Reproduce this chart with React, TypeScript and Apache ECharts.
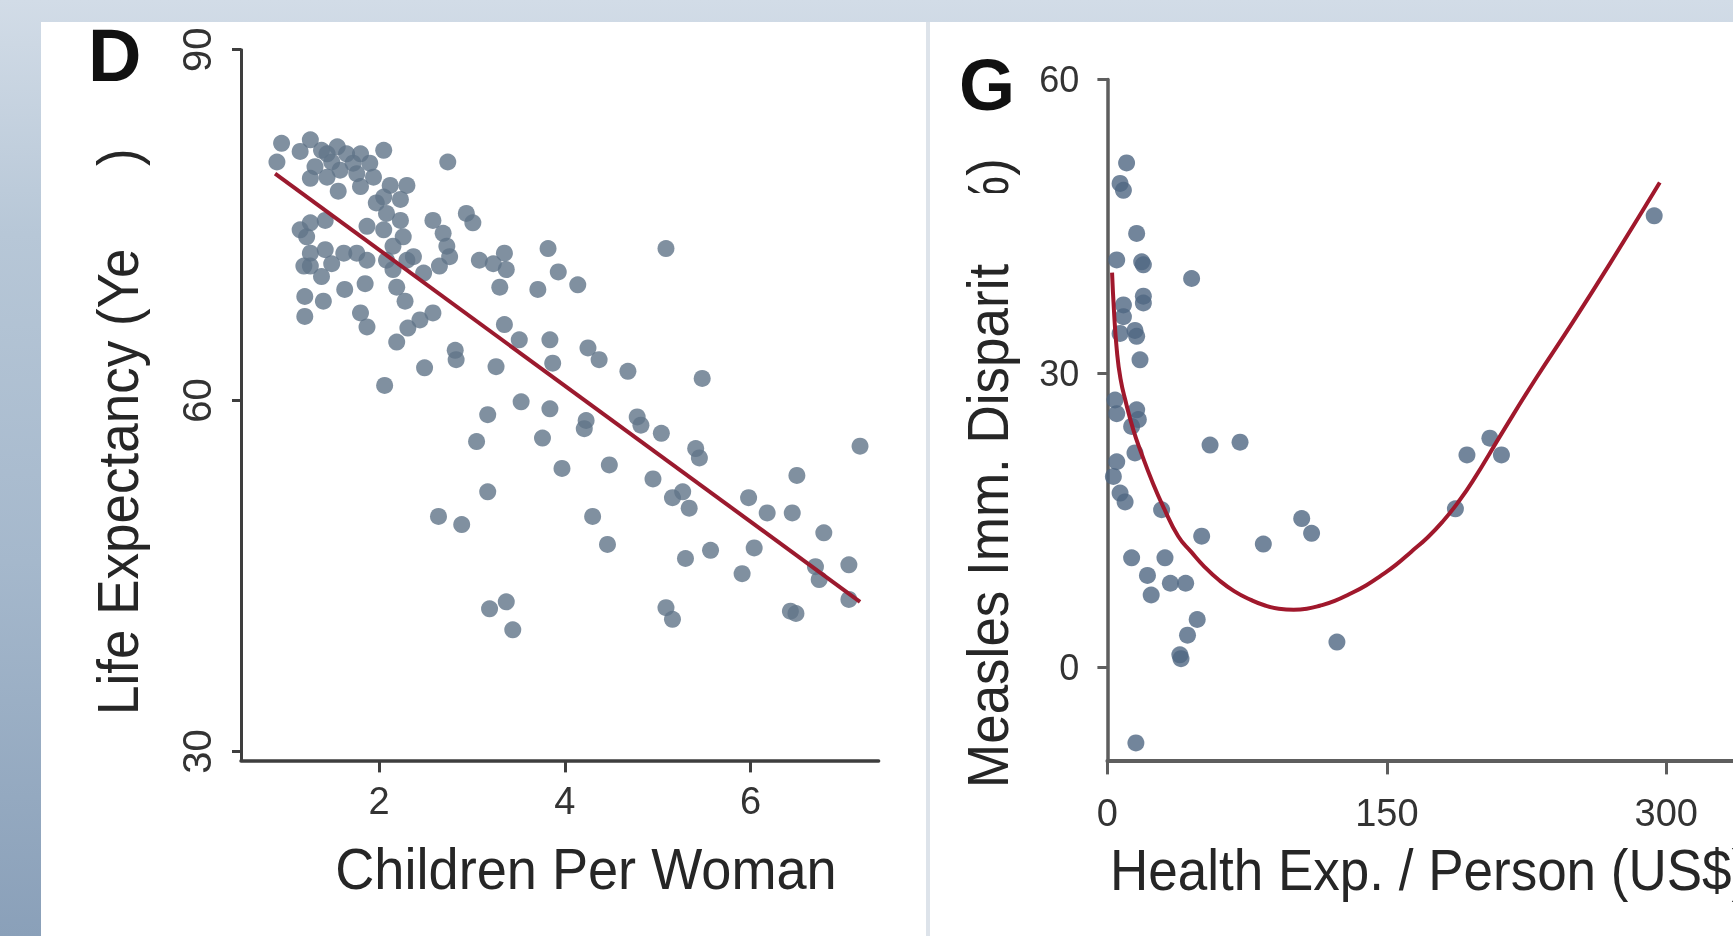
import React, { useEffect, useRef } from "react";
import * as echarts from "echarts";

// ---- tick values ----
const leftXTicks = [2, 4, 6];
const leftYTicks = [30, 60, 90];
const rightXTicks = [0, 150, 300];
const rightYTicks = [0, 30, 60];

// ---- Panel D: children per woman vs life expectancy ----
const childrenLife: number[][] = [
  [0.95, 82.0], [0.9, 80.4], [1.26, 82.3], [1.38, 81.4], [1.31, 80.0], [1.49, 80.4], [1.26, 79.0], [1.44, 79.1],
  [1.58, 79.7], [1.8, 81.1], [1.9, 80.3], [2.05, 81.4], [1.76, 79.4], [1.94, 79.1], [2.12, 78.4], [2.3, 78.4],
  [1.56, 77.9], [1.8, 78.3], [2.05, 77.4], [2.23, 77.2], [2.74, 80.4], [1.26, 75.2], [1.22, 74.0], [1.42, 75.4],
  [1.26, 72.6], [1.26, 71.5], [1.42, 72.9], [1.49, 71.7], [1.38, 70.6], [1.76, 72.6], [1.87, 72.0], [1.87, 74.9],
  [2.05, 74.6], [2.08, 76.0], [2.23, 75.4], [2.26, 74.0], [2.15, 73.2], [2.3, 72.0], [2.15, 71.2], [2.37, 72.3],
  [2.58, 75.4], [2.69, 74.3], [2.73, 73.2], [2.76, 72.3], [2.65, 71.5], [2.48, 70.9], [2.94, 76.0], [3.01, 75.2],
  [3.08, 72.0], [3.23, 71.7], [3.35, 72.6], [3.37, 71.2], [3.3, 69.7], [3.82, 73.0], [3.93, 71.0], [4.14, 69.9],
  [3.71, 69.5], [1.2, 68.9], [1.4, 68.5], [1.2, 67.2], [1.63, 69.5], [1.85, 70.0], [1.8, 67.5], [1.87, 66.3],
  [2.28, 68.5], [2.19, 65.0], [2.31, 66.2], [2.44, 66.9], [2.58, 67.5], [2.49, 62.8], [2.82, 64.3], [2.83, 63.5],
  [2.06, 61.3], [3.26, 62.9], [3.35, 66.5], [3.51, 65.2], [3.84, 65.2], [3.87, 63.2], [4.25, 64.5], [1.55, 81.7],
  [1.15, 74.6], [1.19, 71.5], [2.08, 72.0], [1.62, 72.6], [2.19, 69.7], [1.72, 80.3], [1.15, 81.3], [1.44, 81.1],
  [1.65, 81.1], [1.97, 76.9],
  [5.09, 73.0], [4.37, 63.5], [4.68, 62.5], [5.48, 61.9], [4.23, 58.3], [4.21, 57.6], [4.78, 58.6], [4.82, 57.9],
  [5.04, 57.2], [5.41, 55.9], [5.45, 55.1], [7.18, 56.1], [4.48, 54.5], [3.97, 54.2], [4.95, 53.3], [6.5, 53.6],
  [3.53, 59.9], [3.84, 59.3], [3.17, 58.8], [3.05, 56.5], [3.76, 56.8], [3.17, 52.2], [2.64, 50.1], [2.89, 49.4],
  [4.3, 50.1], [4.46, 47.7], [5.16, 51.7], [5.27, 52.2], [5.34, 50.8], [5.98, 51.7], [6.18, 50.4], [6.45, 50.4],
  [6.79, 48.7], [7.06, 45.96], [6.7, 45.8], [6.74, 44.7], [7.06, 43.0], [6.43, 42.0], [6.49, 41.8], [6.04, 47.4],
  [5.91, 45.2], [5.57, 47.2], [5.3, 46.5], [5.09, 42.3], [5.16, 41.3], [3.19, 42.2], [3.37, 42.8], [3.44, 40.4],
];
const lifeFit: number[][] = [[0.88, 79.4], [7.18, 42.8]];

// ---- Panel G: health expenditure vs measles immunisation disparity ----
const healthMeasles: number[][] = [
  [10.3, 51.5], [6.8, 49.4], [8.6, 48.7], [15.7, 44.3], [5.0, 41.6], [18.4, 41.4], [19.3, 41.1], [45.2, 39.7],
  [8.6, 37.0], [19.3, 37.9], [19.3, 37.2], [8.6, 35.8], [14.8, 34.4], [15.7, 33.8], [6.8, 34.1], [17.5, 31.4],
  [4.1, 27.3], [5.0, 25.9], [15.7, 26.3], [16.6, 25.3], [13.0, 24.6], [55.1, 22.7], [71.2, 23.0], [14.8, 21.9],
  [5.0, 21.0], [3.2, 19.5], [6.8, 17.8], [9.5, 16.9], [29.1, 16.1], [50.6, 13.4], [83.7, 12.6], [104.3, 15.2],
  [109.6, 13.7], [13.0, 11.2], [30.9, 11.2], [21.5, 9.4], [33.8, 8.6], [42.0, 8.6], [23.5, 7.4], [48.2, 4.9],
  [43.0, 3.3], [38.9, 1.3], [39.5, 0.9], [123.2, 2.6], [15.3, -7.7], [186.8, 16.2], [193.0, 21.7], [205.3, 23.4],
  [211.5, 21.7], [293.5, 46.1],
];
const measlesFit: number[][] = [
  [2.5, 40.3], [3.5, 36.5], [5, 32.5], [7, 29.5], [10, 27], [14, 24.2], [18, 22], [24, 19], [30, 16.4],
  [38, 13.4], [45, 11.8], [52, 10.3], [60, 8.9], [68, 7.8], [77, 6.9], [85, 6.3], [92, 6.0], [100, 5.9],
  [107, 6.0], [114, 6.3], [122, 6.8], [130, 7.5], [139, 8.4], [147, 9.4], [155, 10.5], [163, 11.8],
  [172, 13.3], [180, 14.9], [188, 16.8], [196, 19.0], [212, 24.0], [230, 29.5], [250, 35.3], [270, 41.3],
  [296.5, 49.5],
];

const FONT = '"Liberation Sans", Arial, Helvetica, sans-serif';

export default function App() {
  const ref = useRef<HTMLDivElement>(null);

  useEffect(() => {
    if (!ref.current) return;
    const chart = echarts.init(ref.current, undefined, { renderer: "svg" });

    const leftAxisColor = "#3e3e3e";
    const rightAxisColor = "#5e5e5e";
    const labelColor = "#333333";
    const titleColor = "#262626";

    const titleText = (text: string, x: number, y: number, rot: number, align: string, sx: number) => ({
      type: "text",
      x,
      y,
      rotation: rot,
      scaleX: sx,
      z: 5,
      style: {
        text,
        fill: titleColor,
        fontSize: 57,
        fontFamily: FONT,
        textAlign: align,
        textVerticalAlign: "middle",
      },
    });

    chart.setOption({
      animation: false,
      backgroundColor: "transparent",
      graphic: [
        {
          type: "rect",
          z: -20,
          shape: { x: 0, y: 0, width: 1733, height: 936 },
          style: {
            fill: new echarts.graphic.LinearGradient(0, 0, 0, 1, [
              { offset: 0, color: "#d2dce7" },
              { offset: 0.25, color: "#b7c7d7" },
              { offset: 0.6, color: "#a5b8cc" },
              { offset: 1, color: "#8aa0b9" },
            ]),
          },
        },
        { type: "rect", z: -19, shape: { x: 41, y: 22, width: 885, height: 914 }, style: { fill: "#ffffff" } },
        { type: "rect", z: -19, shape: { x: 926, y: 22, width: 4, height: 914 }, style: { fill: "#dde3ea" } },
        { type: "rect", z: -19, shape: { x: 930, y: 22, width: 803, height: 914 }, style: { fill: "#ffffff" } },
        {
          type: "text",
          x: 88,
          y: 55,
          z: 5,
          style: { text: "D", fill: "#111", fontSize: 74, fontWeight: "bold", fontFamily: FONT, textAlign: "left", textVerticalAlign: "middle" },
        },
        {
          type: "text",
          x: 959,
          y: 85,
          z: 5,
          style: { text: "G", fill: "#111", fontSize: 72, fontWeight: "bold", fontFamily: FONT, textAlign: "left", textVerticalAlign: "middle" },
        },
        titleText("Children Per Woman", 586, 870, 0, "center", 0.95),
        titleText("Health Exp. / Person (US$)", 1110, 870, 0, "left", 0.93),
        titleText("Life Expectancy (Ye", 118, 715, Math.PI / 2, "left", 0.93),
        titleText(")", 118, 166, Math.PI / 2, "left", 0.93),
        titleText("Measles Imm. Disparit", 988, 788, Math.PI / 2, "left", 0.93),
        titleText("%)", 988, 223, Math.PI / 2, "left", 0.93),
        { type: "rect", z: 6, shape: { x: 958, y: 193, width: 60, height: 70 }, style: { fill: "#ffffff" } },
      ],
      grid: [
        { left: 241, top: 49.7, width: 637.6, height: 710.7, containLabel: false },
        { left: 1107.4, top: 79.6, width: 625.6, height: 680.8, containLabel: false },
      ],
      xAxis: [
        {
          type: "value",
          gridIndex: 0,
          min: 0.513,
          max: 7.38,
          axisLine: { show: true, onZero: false, lineStyle: { color: leftAxisColor, width: 3.5 } },
          axisTick: { show: true, customValues: leftXTicks, length: 12, lineStyle: { color: leftAxisColor, width: 3 } },
          axisLabel: { customValues: leftXTicks, fontSize: 38, color: labelColor, margin: 22, fontFamily: FONT },
          splitLine: { show: false },
        },
        {
          type: "value",
          gridIndex: 1,
          min: 0,
          max: 335.8,
          axisLine: { show: true, onZero: false, lineStyle: { color: rightAxisColor, width: 4 } },
          axisTick: { show: true, customValues: rightXTicks, length: 14, lineStyle: { color: rightAxisColor, width: 3 } },
          axisLabel: { customValues: rightXTicks, fontSize: 38, color: labelColor, margin: 34, fontFamily: FONT },
          splitLine: { show: false },
        },
      ],
      yAxis: [
        {
          type: "value",
          gridIndex: 0,
          min: 29.24,
          max: 90,
          axisLine: { show: true, onZero: false, lineStyle: { color: leftAxisColor, width: 3 } },
          axisTick: { show: true, customValues: leftYTicks, length: 9, lineStyle: { color: leftAxisColor, width: 3 } },
          axisLabel: { customValues: leftYTicks, rotate: 90, fontSize: 40, color: labelColor, margin: 24, fontFamily: FONT },
          splitLine: { show: false },
        },
        {
          type: "value",
          gridIndex: 1,
          min: -9.48,
          max: 60,
          axisLine: { show: true, onZero: false, lineStyle: { color: rightAxisColor, width: 3.5 } },
          axisTick: { show: true, customValues: rightYTicks, length: 10, lineStyle: { color: rightAxisColor, width: 3 } },
          axisLabel: { customValues: rightYTicks, fontSize: 36, color: labelColor, margin: 28, fontFamily: FONT },
          splitLine: { show: false },
        },
      ],
      series: [
        {
          type: "scatter",
          xAxisIndex: 0,
          yAxisIndex: 0,
          data: childrenLife,
          symbolSize: 17,
          itemStyle: { color: "#607488" },
          z: 2,
        },
        {
          type: "line",
          xAxisIndex: 0,
          yAxisIndex: 0,
          data: lifeFit,
          symbol: "none",
          lineStyle: { color: "#9b1a2e", width: 4 },
          z: 4,
        },
        {
          type: "scatter",
          xAxisIndex: 1,
          yAxisIndex: 1,
          data: healthMeasles,
          symbolSize: 17,
          itemStyle: { color: "#4f6782" },
          z: 2,
        },
        {
          type: "line",
          xAxisIndex: 1,
          yAxisIndex: 1,
          data: measlesFit,
          symbol: "none",
          smooth: true,
          lineStyle: { color: "#a0182c", width: 4 },
          z: 4,
        },
      ],
    });

    return () => chart.dispose();
  }, []);

  return <div ref={ref} style={{ position: "fixed", left: 0, top: 0, width: 1733, height: 936 }} />;
}
